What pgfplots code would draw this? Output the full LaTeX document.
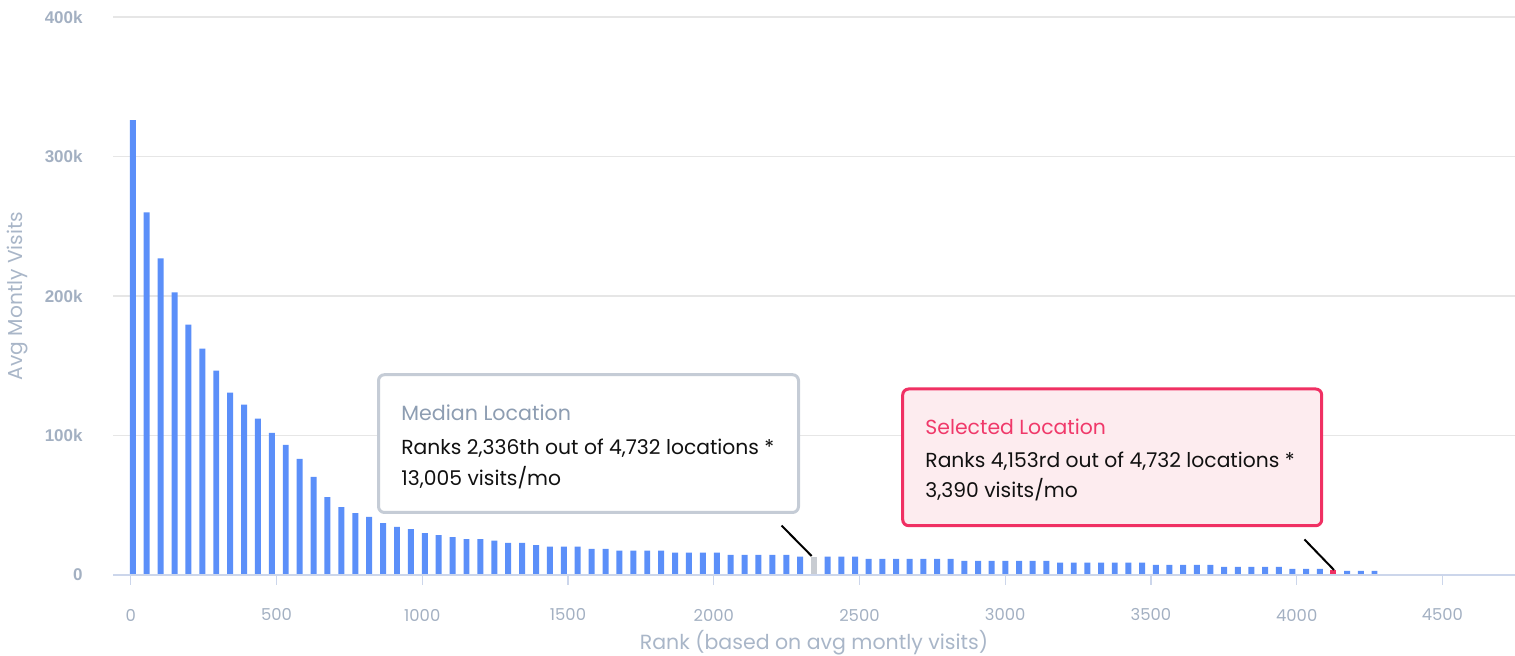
\documentclass[border=0pt]{standalone}
\usepackage{pgfplots}
\pgfplotsset{compat=1.18}
\usepackage{pgfplotstable}
\usepackage{fontspec}
\setmainfont{Poppins}
\newfontfamily\ytf{Liberation Sans}
\definecolor{barblue}{HTML}{5B8FF9}
\definecolor{bargray}{HTML}{C8CCD2}
\definecolor{barred}{HTML}{F03063}
\definecolor{selfill}{HTML}{FDECEF}
\definecolor{seltitle}{HTML}{F0396A}
\definecolor{medborder}{HTML}{C5CCD6}
\definecolor{medtitle}{HTML}{8D9DB2}
\definecolor{bodytext}{HTML}{111111}
\definecolor{axtitle}{HTML}{A9B6C8}
\definecolor{ticklab}{HTML}{A3B0C2}
\definecolor{gridc}{HTML}{E6E6E6}
\definecolor{axisc}{HTML}{CCD6EB}

\pgfplotstableread{
x y
7 326000
54.7 260000
102.4 227000
150.1 202600
197.8 179400
245.5 162300
293.2 146500
340.9 130700
388.6 122100
436.3 112000
484 101900
531.7 93300
579.4 83200
627.1 70300
674.8 55900
722.5 48700
770.2 44400
817.9 41600
865.6 37200
913.3 34400
961 32900
1008.7 30000
1056.4 28600
1104.1 27200
1151.8 25700
1199.5 25700
1247.2 24600
1294.9 23100
1342.6 23100
1390.3 21400
1438 20300
1485.7 20300
1533.4 20300
1581.1 18800
1628.8 18800
1676.5 17400
1724.2 17400
1771.9 17400
1819.6 17400
1867.3 16000
1915 16000
1962.7 16000
2010.4 16000
2058.1 14500
2105.8 14500
2153.5 14500
2201.2 14500
2248.9 14500
2296.6 13100
2390.9 13100
2437.8 13100
2484.7 13100
2531.6 11600
2578.5 11600
2625.4 11600
2672.3 11600
2719.2 11600
2766.1 11600
2813 11600
2859.9 10200
2906.8 10200
2953.7 10200
3000.6 10200
3047.5 10200
3094.4 10200
3141.3 10200
3188.2 8800
3235.1 8800
3282 8800
3328.9 8800
3375.8 8800
3422.7 8800
3469.6 8800
3516.5 7300
3563.4 7300
3610.3 7300
3657.2 7300
3704.1 7300
3751 5900
3797.9 5900
3844.8 5900
3891.7 5900
3938.6 5900
3985.5 4400
4032.4 4400
4079.3 4400
4173.1 3000
4220 3000
4266.9 3000
4313.8 400
4360.7 400
4407.6 400
4454.5 400
4501.4 400
4548.3 400
}\bluedata

\pgfplotstableread{
x y
2344.3 13005
}\mediandata

\pgfplotstableread{
x y
4126.2 3390
}\selecteddata

\begin{document}
\begin{tikzpicture}
\useasboundingbox (0,0) rectangle (757.5pt,328pt);
\begin{axis}[
  at={(56.5pt,40.5pt)}, anchor=south west,
  scale only axis, width=701pt, height=279pt,
  xmin=-61, xmax=4749, ymin=0, ymax=400000,
  axis line style={draw=none},
  ytick={0,100000,200000,300000,400000},
  yticklabels={0,100k,200k,300k,400k},
  ytick style={draw=none},
  ytick pos=left,
  ymajorgrids, grid style={color=gridc, line width=0.6pt},
  yticklabel style={font=\ytf\bfseries\fontsize{8.5}{10}\selectfont, text=ticklab, anchor=east, inner sep=0pt, xshift=-15pt},
  xtick={0,500,1000,1500,2000,2500,3000,3500,4000,4500},
  xticklabels={0,500,1000,1500,2000,2500,3000,3500,4000,4500},
  xtick pos=bottom, xtick align=outside, major tick length=5pt,
  xtick style={draw=axisc, line width=0.7pt},
  xticklabel style={font=\fontsize{8.2}{10}\selectfont, text=ticklab, anchor=center, inner sep=0pt, yshift=-15pt},
  scaled y ticks=false,
  xlabel={Rank (based on avg montly visits)},
  ylabel={Avg Montly Visits},
  every axis x label/.style={at={(axis description cs:0.5,-0.1344)}, anchor=base, font=\fontsize{10.25}{12}\selectfont, text=axtitle, inner sep=0pt},
  every axis y label/.style={at={(axis description cs:-0.0678,0.5)}, rotate=90, anchor=center, font=\fontsize{10.1}{12}\selectfont, text=axtitle, inner sep=0pt},
  clip=false,
]
\addplot[ybar, bar width=20.5, bar shift=0pt, fill=barblue, draw=none] table[x=x,y=y]{\bluedata};
\addplot[ybar, bar width=20.5, bar shift=0pt, fill=bargray, draw=none] table[x=x,y=y]{\mediandata};
\addplot[ybar, bar width=20.5, bar shift=0pt, fill=barred, draw=none] table[x=x,y=y]{\selecteddata};
\draw[axisc, line width=1pt] (axis cs:-61,0) -- (axis cs:4749,0);
\end{axis}
% Median annotation
\draw[medborder, line width=1.5pt, rounded corners=3pt, fill=white] (189.25pt,71.75pt) rectangle (399.25pt,140.65pt);
\node[anchor=base west, inner sep=0pt, text=medtitle, font=\fontsize{10.3}{12}\selectfont] at (200.5pt,117.5pt) {Median Location};
\node[anchor=base west, inner sep=0pt, text=bodytext, font=\fontsize{10.15}{12}\selectfont] at (200.5pt,100.8pt) {Ranks 2,336th out of 4,732 locations *};
\node[anchor=base west, inner sep=0pt, text=bodytext, font=\fontsize{10.15}{12}\selectfont] at (200.5pt,85.3pt) {13,005 visits/mo};
\draw[black, line width=1pt] (390.8pt,65.2pt) -- (405.8pt,50pt);
% Selected annotation
\draw[barred, line width=1.5pt, rounded corners=3pt, fill=selfill] (451.35pt,65.15pt) rectangle (660.85pt,133.5pt);
\node[anchor=base west, inner sep=0pt, text=seltitle, font=\fontsize{10.2}{12}\selectfont] at (462.5pt,110.5pt) {Selected Location};
\node[anchor=base west, inner sep=0pt, text=bodytext, font=\fontsize{10.15}{12}\selectfont] at (462.5pt,94pt) {Ranks 4,153rd out of 4,732 locations *};
\node[anchor=base west, inner sep=0pt, text=bodytext, font=\fontsize{10.15}{12}\selectfont] at (462.5pt,79pt) {3,390 visits/mo};
\draw[black, line width=1pt] (652.2pt,58.3pt) -- (667pt,43pt);
\end{tikzpicture}
\end{document}
